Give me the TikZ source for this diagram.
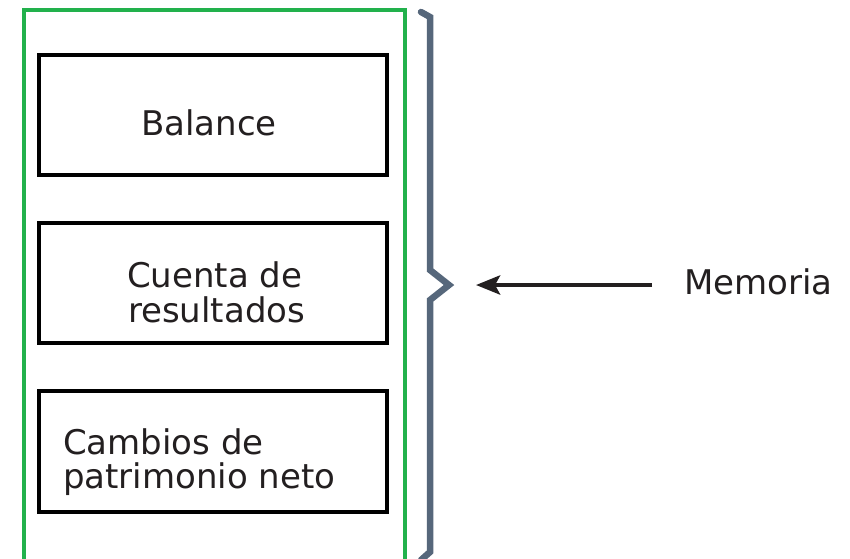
\documentclass[tikz,border=0pt]{standalone}
\usepackage{fontspec}
\setmainfont{DejaVu Sans}
\usetikzlibrary{arrows.meta}
\definecolor{frameGreen}{RGB}{34,177,76}
\definecolor{braceSlate}{RGB}{86,103,123}
\definecolor{inkDark}{RGB}{35,31,32}
\begin{document}
\begin{tikzpicture}[x=1pt,y=-1pt,
  lbl/.style={inner sep=0pt,outer sep=0pt,text=inkDark,font=\fontsize{34}{35}\selectfont},
  boxstyle/.style={draw=black,line width=3.4pt,inner sep=0pt},
]
\useasboundingbox (0,0) rectangle (850,558);
\fill[white] (0,0) rectangle (850,558);
% green frame
\draw[frameGreen,line width=3.2pt] (24,570) -- (24,10) -- (405,10) -- (405,570);
% boxes
\draw[boxstyle] (39,55) rectangle (387,175);
\draw[boxstyle] (39,223) rectangle (387,343);
\draw[boxstyle] (39,391) rectangle (387,512);
% texts
\node[lbl,anchor=base west] (balance) at (141,135) {Balance};
\node[lbl,anchor=base west] (cuenta1) at (127,287) {Cuenta de};
\node[lbl,anchor=base west] (cuenta2) at (128,322) {resultados};
\node[lbl,anchor=base west] (cambios1) at (63,454) {Cambios de};
\node[lbl,anchor=base west] (cambios2) at (63,488) {patrimonio neto};
\node[lbl,anchor=base west] (memoria) at (684,294) {Memoria};
% brace
\draw[braceSlate,line width=6.5pt,line cap=round,line join=miter]
  (421,12) -- (430,17) -- (430,270) -- (449,285) -- (430,300) -- (430,552) -- (421,560);
% arrow
\coordinate (arrStart) at (652,285);
\coordinate (arrEnd) at (476,285);
\draw[inkDark,line width=4.5pt,-{Stealth[length=24pt,width=19pt,inset=5pt]}] (arrStart) -- (arrEnd);
\end{tikzpicture}
\end{document}
